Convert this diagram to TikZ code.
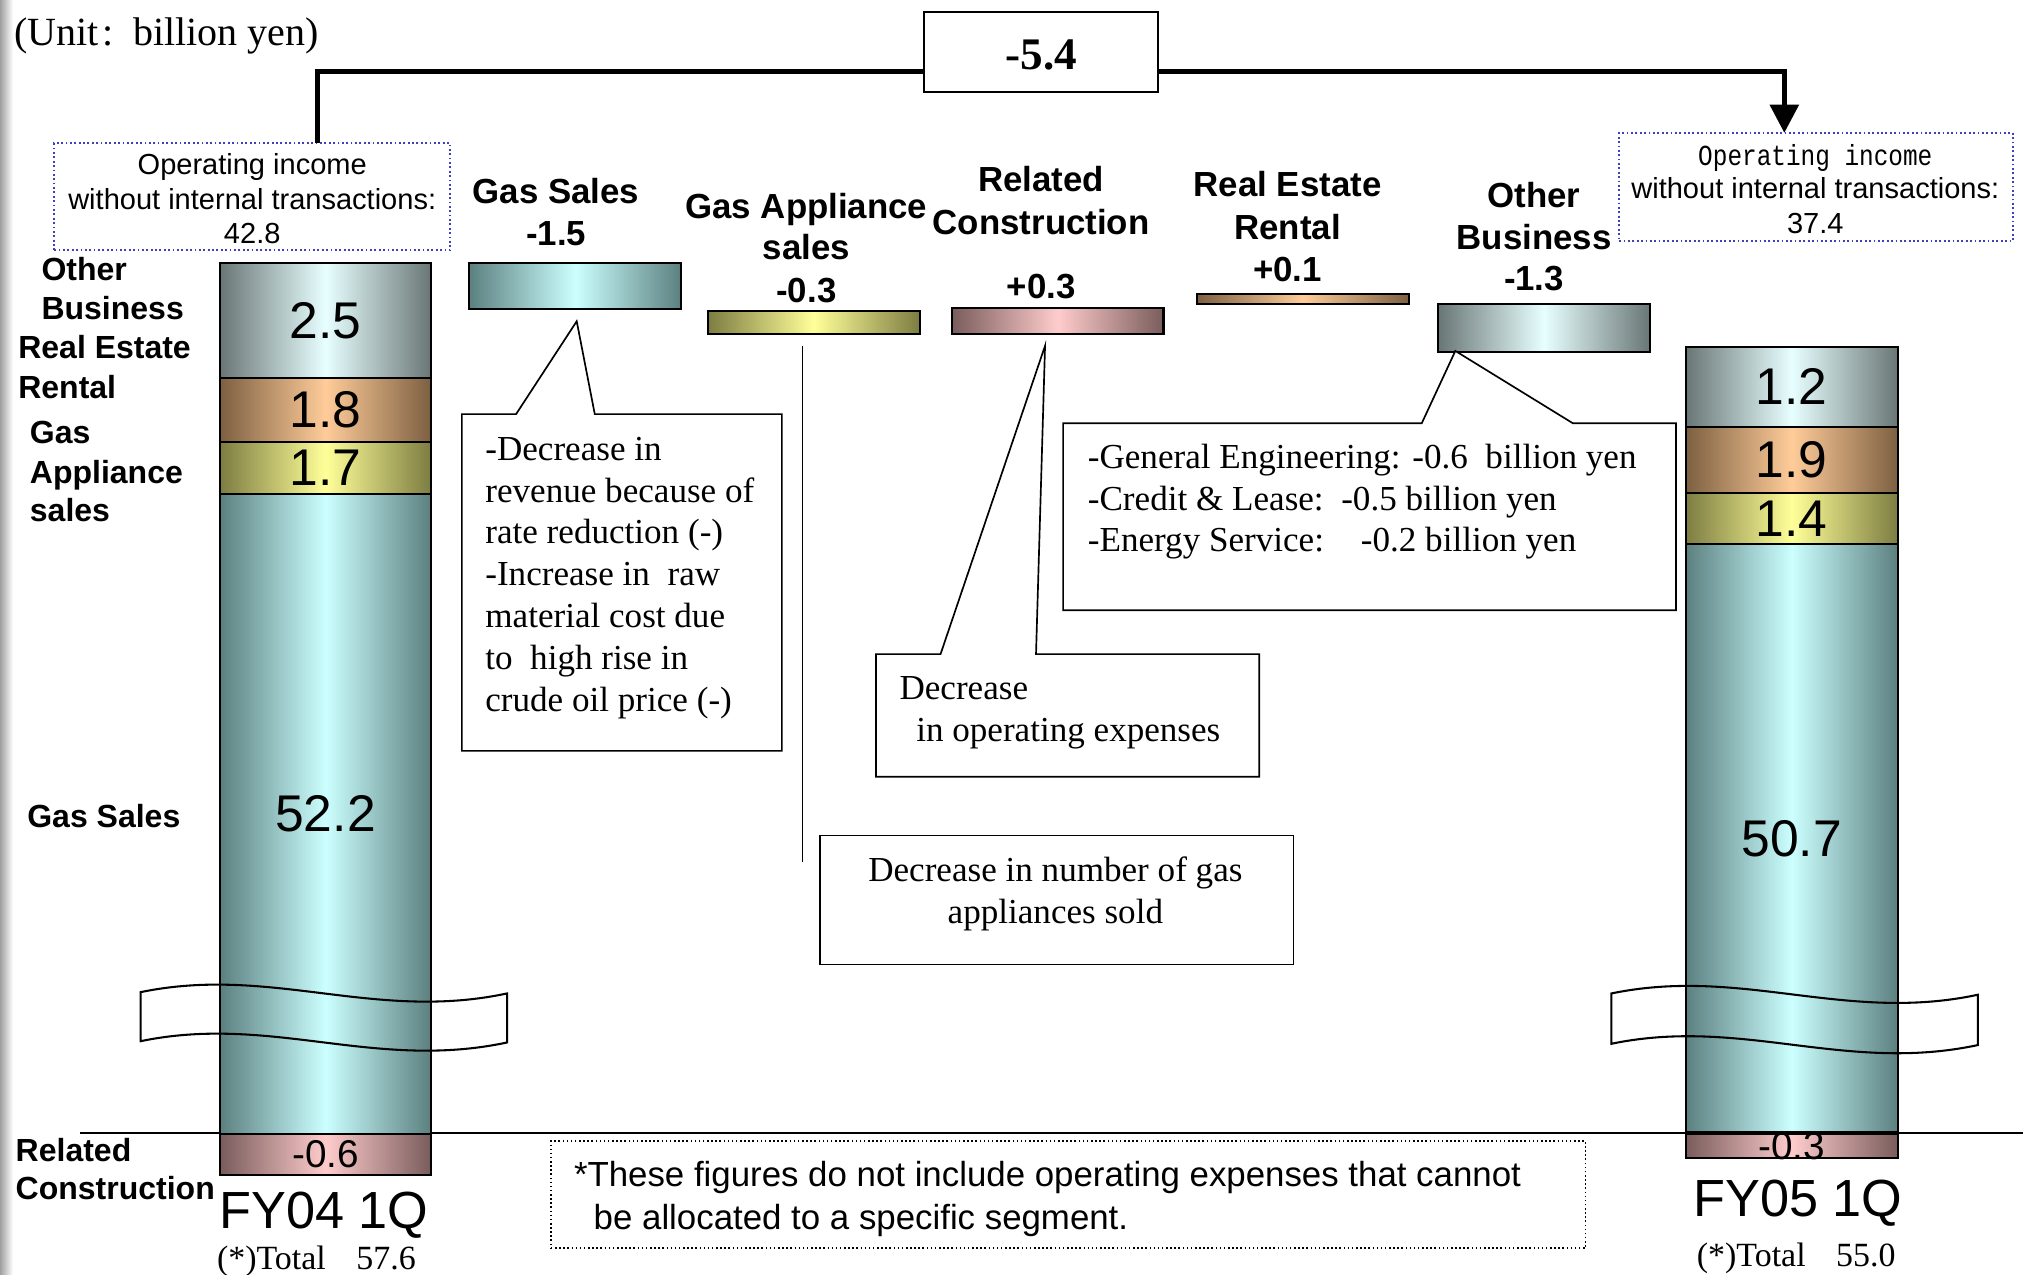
\documentclass[tikz,border=0pt]{standalone}
\usepackage{fontspec}
\usepackage{graphicx}
\setmainfont{Liberation Serif}
\setsansfont{Liberation Sans}
\newfontfamily\gothicfont{Liberation Mono}
\usetikzlibrary{arrows.meta,calc}
\definecolor{gsE}{RGB}{92,128,128}
\definecolor{gsC}{RGB}{204,255,255}
\definecolor{obE}{RGB}{106,118,118}
\definecolor{obC}{RGB}{232,255,255}
\definecolor{reE}{RGB}{125,96,66}
\definecolor{reC}{RGB}{255,204,153}
\definecolor{gaE}{RGB}{125,125,66}
\definecolor{gaC}{RGB}{255,255,153}
\definecolor{rcE}{RGB}{122,92,92}
\definecolor{rcC}{RGB}{255,204,204}
\definecolor{dotblue}{RGB}{64,64,190}
\newcommand{\hdrfont}{\sffamily\bfseries\fontsize{27}{32}\selectfont}
\newcommand{\lblfont}{\sffamily\bfseries\fontsize{24.8}{30}\selectfont}
\newcommand{\valfont}{\sffamily\fontsize{40}{48}\selectfont}
\newcommand{\smallvalfont}{\sffamily\fontsize{30}{36}\selectfont}
\newcommand{\boxfont}{\sffamily\fontsize{22.5}{27}\selectfont}
\newcommand{\notefont}{\rmfamily\fontsize{27.2}{32.5}\selectfont}
\newcommand{\footfont}{\sffamily\fontsize{27}{33}\selectfont}
\newcommand{\fyfont}{\sffamily\fontsize{40.5}{48}\selectfont}
\newcommand{\totfont}{\rmfamily\fontsize{26.3}{31}\selectfont}
\newcommand{\deltafont}{\rmfamily\bfseries\fontsize{35}{40}\selectfont}
\newcommand{\unitfont}{\rmfamily\fontsize{31}{36}\selectfont}
\begin{document}
\begin{tikzpicture}[x=1pt,y=-1pt,
  segbox/.style={draw=black, line width=1.6pt, inner sep=0pt, anchor=north west},
  fteal/.style={left color=gsE, right color=gsE, middle color=gsC},
  fgray/.style={left color=obE, right color=obE, middle color=obC},
  forange/.style={left color=reE, right color=reE, middle color=reC},
  fyellow/.style={left color=gaE, right color=gaE, middle color=gaC},
  fpink/.style={left color=rcE, right color=rcE, middle color=rcC},
  infobox/.style={draw=dotblue, dotted, line width=1.4pt, inner sep=0pt},
  callout/.style={draw=black, line width=1.3pt, fill=white, line join=miter},
  plainbox/.style={draw=black, line width=1.3pt, inner sep=0pt},
  hdr/.style={font=\hdrfont, anchor=base, inner sep=0pt},
  lbl/.style={font=\lblfont, anchor=base west, inner sep=0pt},
  val/.style={font=\valfont, inner sep=0pt},
  sval/.style={font=\smallvalfont, inner sep=0pt},
  boxtxt/.style={font=\boxfont, anchor=base, inner sep=0pt},
  note/.style={font=\notefont, anchor=base west, inner sep=0pt},
  notec/.style={font=\notefont, anchor=base, inner sep=0pt},
  bigline/.style={line width=4pt, line join=miter},
  wave/.style={draw=black, line width=1.6pt}
]
\useasboundingbox (0,0) rectangle (1568,988);
\fill[white] (0,0) rectangle (1568,988);
\shade[left color=gray!75, right color=white] (0,0) rectangle (10,988);

% unit
\node[font=\unitfont, anchor=base west, inner sep=0pt] (unit) at (11,35) {(Unit\hspace{0.08em}:\hspace{0.5em}billion yen)};

% axis line
\coordinate (axl) at (62,878);
\coordinate (axr) at (1568,878);
\draw[line width=2pt] (axl) -- (axr);

% left column
\node[segbox, fgray, minimum width=163pt, minimum height=89pt] (lob) at (170,203) {};
\node[segbox, forange, minimum width=163pt, minimum height=50pt] (lre) at (170,292) {};
\node[segbox, fyellow, minimum width=163pt, minimum height=40pt] (lga) at (170,342) {};
\node[segbox, fteal, minimum width=163pt, minimum height=496pt] (lgs) at (170,382) {};
\node[segbox, fpink, minimum width=163pt, minimum height=32pt] (lrc) at (170,878) {};
\node[val] (vlob) at (lob.center) {2.5};
\node[val] (vlre) at (lre.center) {1.8};
\node[val] (vlga) at (lga.center) {1.7};
\node[val] (vlgs) at (lgs.center) {52.2};
\node[sval] (vlrc) at (lrc.center) {-0.6};

% right column
\node[segbox, fgray, minimum width=164pt, minimum height=62pt] (rob) at (1306,268) {};
\node[segbox, forange, minimum width=164pt, minimum height=51pt] (rre) at (1306,330) {};
\node[segbox, fyellow, minimum width=164pt, minimum height=40pt] (rga) at (1306,381) {};
\node[segbox, fteal, minimum width=164pt, minimum height=457pt] (rgs) at (1306,421) {};
\node[segbox, fpink, minimum width=164pt, minimum height=19pt] (rrc) at (1306,878) {};
\draw[line width=3.5pt] (rrc.north west) -- (rrc.north east);
\node[val] (vrob) at (rob.center) {1.2};
\node[val] (vrre) at (rre.center) {1.9};
\node[val] (vrga) at (rga.center) {1.4};
\node[val] (vrgs) at (rgs.center) {50.7};
\node[sval] (vrrc) at (rrc.center) {-0.3};

% break marks
\draw[wave] (109,769) .. controls (210,748) and (290,792) .. (393,770) -- (393,808) .. controls (290,830) and (210,786) .. (109,807) -- cycle;
\draw[wave] (1249,770) .. controls (1350,749) and (1430,793) .. (1533,771) -- (1533,810) .. controls (1430,832) and (1350,788) .. (1249,809) -- cycle;

% delta bars
\node[segbox, fteal, minimum width=164pt, minimum height=36pt] (bgs) at (363,203) {};
\node[segbox, fyellow, minimum width=164pt, minimum height=18pt] (bga) at (548,240) {};
\node[segbox, fpink, minimum width=164pt, minimum height=20pt] (brc) at (737,238) {};
\node[segbox, forange, minimum width=164pt, minimum height=8pt] (bre) at (927,227) {};
\node[segbox, fgray, minimum width=164pt, minimum height=37pt] (bob) at (1114,235) {};

% headers
\node[hdr] (h1a) at (431,157.5) {Gas Sales};
\node[hdr] (h1b) at (431,190.5) {-1.5};
\node[hdr] (h2a) at (625,169.5) {Gas Appliance};
\node[hdr] (h2b) at (625,201.5) {sales};
\node[hdr] (h2c) at (625,234.5) {-0.3};
\node[hdr] (h3a) at (807,148.5) {Related};
\node[hdr] (h3b) at (807,181.5) {Construction};
\node[hdr] (h3c) at (807,231.5) {+0.3};
\node[hdr] (h4a) at (998,152.5) {Real Estate};
\node[hdr] (h4b) at (998,185.5) {Rental};
\node[hdr] (h4c) at (998,218.5) {+0.1};
\node[hdr] (h5a) at (1189,160.5) {Other};
\node[hdr] (h5b) at (1189,193.5) {Business};
\node[hdr] (h5c) at (1189,225.5) {-1.3};

% left labels
\node[lbl] (l1a) at (32,217.5) {Other};
\node[lbl] (l1b) at (32,247.5) {Business};
\node[lbl] (l2a) at (14,278) {Real Estate};
\node[lbl] (l2b) at (14,308.5) {Rental};
\node[lbl] (l3a) at (23,344) {Gas};
\node[lbl] (l3b) at (23,374.5) {Appliance};
\node[lbl] (l3c) at (23,404.5) {sales};
\node[lbl] (l4a) at (21,641.5) {Gas Sales};
\node[lbl] (l5a) at (12,900.5) {Related};
\node[lbl] (l5b) at (12,930) {Construction};

% info boxes
\node[infobox, minimum width=307pt, minimum height=83pt] (oil) at (195.5,152.5) {};
\node[boxtxt] (oil1) at (195.5,135) {Operating income};
\node[boxtxt] (oil2) at (195.5,162) {without internal transactions:};
\node[boxtxt] (oil3) at (195.5,189) {42.8};
\node[infobox, minimum width=305pt, minimum height=84pt] (oir) at (1407.5,145) {};
\node[anchor=base, inner sep=0pt] (oir1) at (1407,128) {\scalebox{0.84}[1]{\gothicfont\fontsize{22.5}{27}\selectfont Operating income}};
\node[boxtxt] (oir2) at (1407,154) {without internal transactions:};
\node[boxtxt] (oir3) at (1407,181) {37.4};

% total change
\node[draw=black, line width=1.5pt, minimum width=181pt, minimum height=62pt, inner sep=0pt] (delta) at (807,40.5) {};
\node[font=\deltafont, anchor=base, inner sep=0pt] (deltatxt) at (807,54) {-5.4};
\coordinate (lstart) at (246,111);
\coordinate (liney) at (0,55.5);
\coordinate (rtip) at (1383,103);
\draw[bigline] (lstart) |- (delta.west |- liney);
\draw[bigline, -{Triangle[width=22pt,length=22pt]}] (delta.east |- liney) -| (rtip);

% callout 1 (gas sales)
\draw[callout] (358,321) -- (400,321) -- (447,249) -- (461,321) -- (606,321) -- (606,582) -- (358,582) -- cycle;
\foreach \t [count=\i] in {{-Decrease in},{revenue because of},{rate reduction (-)},{-Increase in\ \ raw},{material cost due},{to\ \ high rise in},{crude oil price (-)}}
  \node[note] (ca\i) at (376,{356.6+32.5*(\i-1)}) {\t};

% gas appliance line and box
\coordinate (gal1) at (622,268);
\coordinate (gal2) at (622,668);
\draw[line width=1.5pt] (gal1) -- (gal2);
\node[plainbox, minimum width=367pt, minimum height=100pt] (gabox) at (819,697.5) {};
\node[notec] (gab1) at (818,683.4) {Decrease in number of gas};
\node[notec] (gab2) at (818,715.6) {appliances sold};

% callout 2 (related construction)
\draw[callout] (679,507) -- (729,507) -- (810,268) -- (803,507) -- (976,507) -- (976,602) -- (679,602) -- cycle;
\node[note] (cb1) at (697,542.5) {Decrease};
\node[note] (cb2) at (710,575) {in operating expenses};

% callout 3 (other business)
\draw[callout] (824,328) -- (1102,328) -- (1128,272) -- (1219,328) -- (1299,328) -- (1299,473) -- (824,473) -- cycle;
\node[note] (cc1) at (843,363) {-General Engineering: -0.6\ \ billion yen};
\node[note] (cc2) at (843,395.3) {-Credit \& Lease:\ \ -0.5 billion yen};
\node[note] (cc3) at (843,427.6) {-Energy Service:\hspace{1.05em}-0.2 billion yen};

% footnote
\node[draw=black, dotted, line width=1.2pt, minimum width=802pt, minimum height=83pt, inner sep=0pt] (foot) at (828,926) {};
\node[font=\footfont, anchor=base west, inner sep=0pt] (ft1) at (444.7,919.7) {*These figures do not include operating expenses that cannot};
\node[font=\footfont, anchor=base west, inner sep=0pt] (ft2) at (460,953.3) {be allocated to a specific segment.};

% bottom labels
\node[font=\fyfont, anchor=base, inner sep=0pt] (fy4) at (251,951.8) {FY04 1Q};
\node[font=\totfont, anchor=base west, inner sep=0pt] (t4) at (168,984) {(*)Total\hspace{0.9em}57.6};
\node[font=\fyfont, anchor=base, inner sep=0pt] (fy5) at (1393.5,943) {FY05 1Q};
\node[font=\totfont, anchor=base west, inner sep=0pt] (t5) at (1315,981.7) {(*)Total\hspace{0.9em}55.0};
\end{tikzpicture}
\end{document}
